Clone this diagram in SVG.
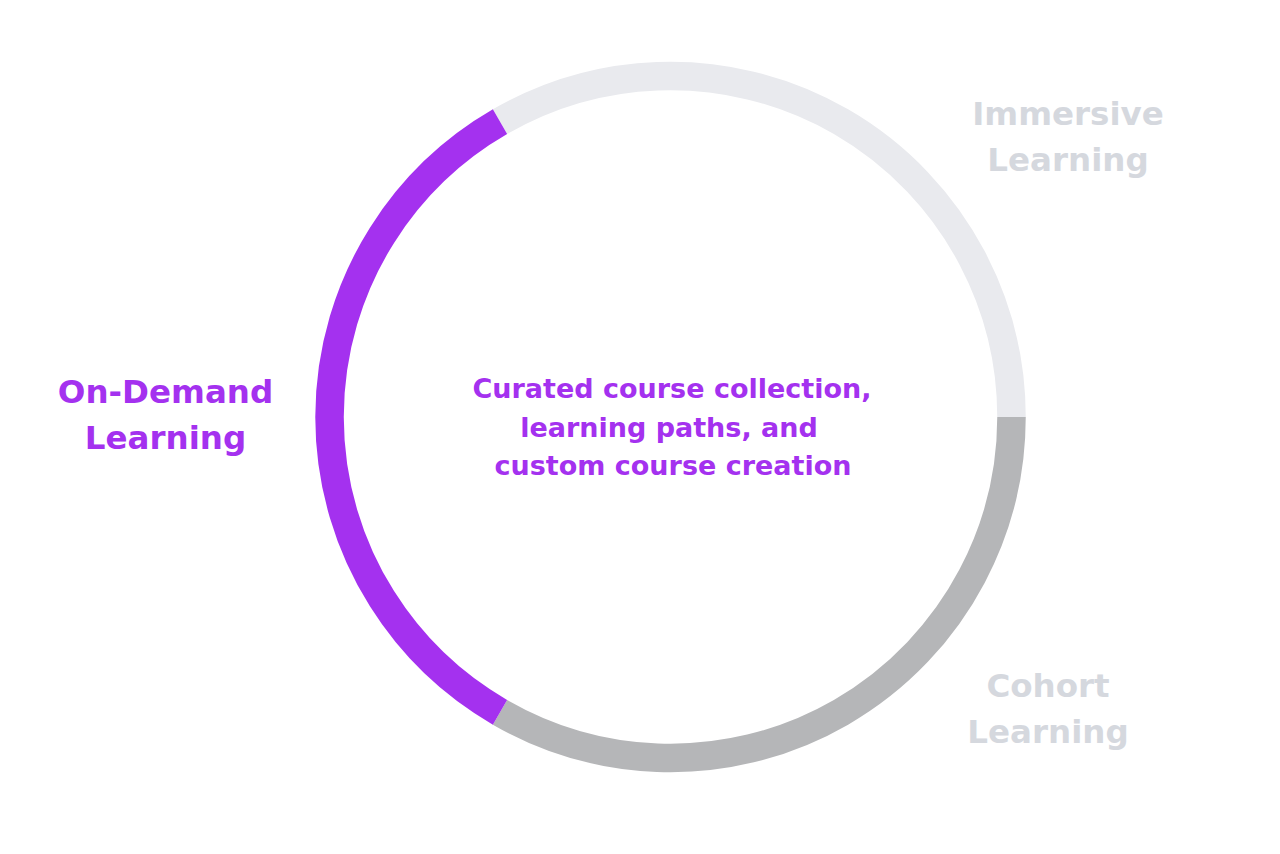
<svg xmlns="http://www.w3.org/2000/svg" width="1280" height="854" viewBox="0 0 1280 854">
<style>
.seg{fill:none;stroke-width:28.5;stroke-linecap:butt}
.lbl{font-family:"DejaVu Sans","Liberation Sans",sans-serif;font-weight:bold;font-size:32.5px;text-anchor:middle}
.mid{font-family:"DejaVu Sans","Liberation Sans",sans-serif;font-weight:bold;font-size:27px;text-anchor:middle;fill:#a431ef}
.on{fill:#a431ef}
.off{fill:#d5d8de}
</style>
<rect width="1280" height="854" fill="#ffffff"/>
<g id="connectors">
<path id="arc-immersive" class="seg" stroke="#e9eaee" d="M500,121.7 A341,341 0 0 1 1011.5,417"/>
<path id="arc-cohort" class="seg" stroke="#b5b6b8" d="M1011.5,417 A341,341 0 0 1 500,712.3"/>
<path id="arc-ondemand" class="seg" stroke="#a431ef" d="M500,712.3 A341,341 0 0 1 500,121.7"/>
</g>
<g id="node-ondemand">
<text class="lbl on" x="165.5" y="403">On-Demand</text>
<text class="lbl on" x="165.5" y="449">Learning</text>
</g>
<g id="node-immersive">
<text class="lbl off" x="1068" y="125">Immersive</text>
<text class="lbl off" x="1068" y="171">Learning</text>
</g>
<g id="node-cohort">
<text class="lbl off" x="1048" y="697">Cohort</text>
<text class="lbl off" x="1048" y="743">Learning</text>
</g>
<g id="node-center">
<text class="mid" x="672" y="398">Curated course collection,</text>
<text class="mid" x="669" y="436.5">learning paths, and</text>
<text class="mid" x="673" y="475">custom course creation</text>
</g>
</svg>
